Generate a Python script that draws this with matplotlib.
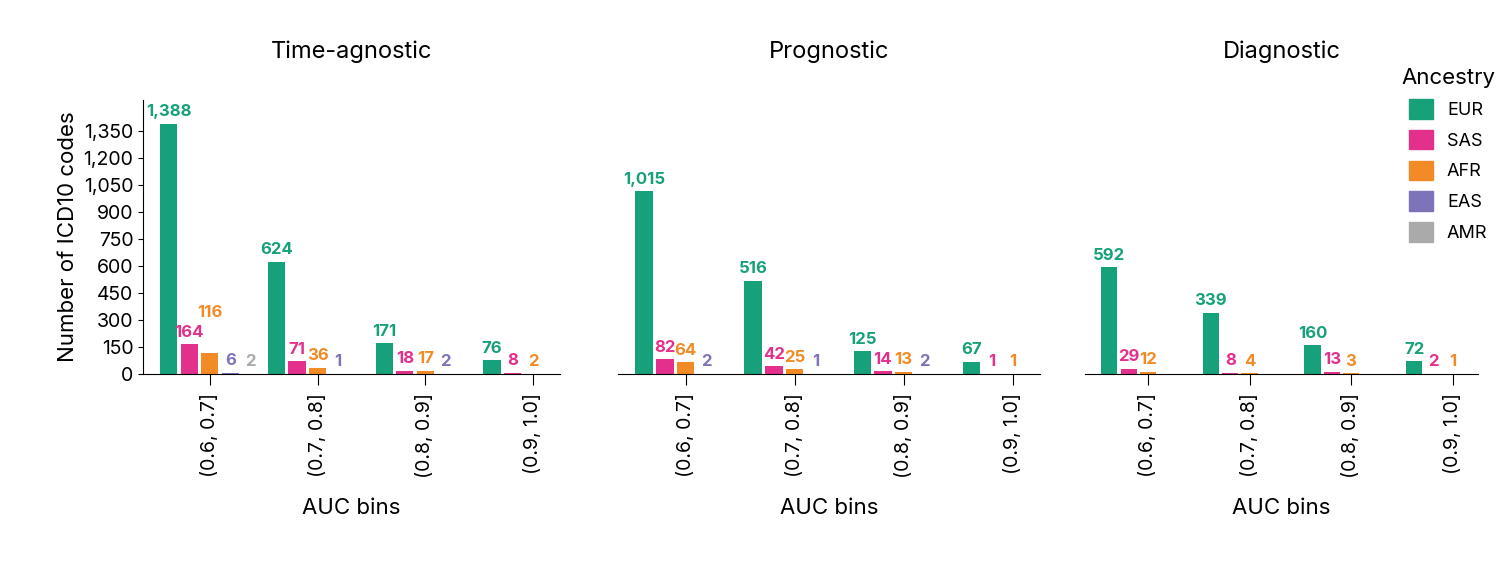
import matplotlib
matplotlib.use("Agg")
import matplotlib.pyplot as plt
from matplotlib.patches import Patch

bins = ["(0.6, 0.7]", "(0.7, 0.8]", "(0.8, 0.9]", "(0.9, 1.0]"]
ancestries = ["EUR", "SAS", "AFR", "EAS", "AMR"]
colors = ["#17a17b", "#e3308c", "#f28b25", "#7d73b8", "#aaaaaa"]
panels = ["Time-agnostic", "Prognostic", "Diagnostic"]

time_agnostic = [[1388, 164, 116, 6, 2], [624, 71, 36, 1, None], [171, 18, 17, 2, None], [76, 8, 2, None, None]]
prognostic = [[1015, 82, 64, 2, None], [516, 42, 25, 1, None], [125, 14, 13, 2, None], [67, 1, 1, None, None]]
diagnostic = [[592, 29, 12, None, None], [339, 8, 4, None, None], [160, 13, 3, None, None], [72, 2, 1, None, None]]
data = [time_agnostic, prognostic, diagnostic]

plt.rcParams["font.family"] = "Inter"
fig = plt.figure(figsize=(15.12, 5.78), dpi=100)
W, H = 1512, 578
boxes = [(143, 560), (618, 1040), (1085, 1478)]
ytop, ybot = 100, 374
slot = 0.19
for pi, (x0, x1) in enumerate(boxes):
    ax = fig.add_axes([x0 / W, 1 - ybot / H, (x1 - x0) / W, (ybot - ytop) / H])
    for gi, grp in enumerate(data[pi]):
        prev_y = None
        for si, v in enumerate(grp):
            if v is None:
                continue
            x = gi + (si - 2) * slot
            ax.bar(x, v, width=0.16, color=colors[si])
            ly = v + 25
            if si > 0 and prev_y is not None and len(str(v)) >= 3 and abs(ly - prev_y) < 90:
                ly = prev_y + 110
            if si > 0 and prev_y is not None and len(str(grp[si - 1])) >= 3 and len(str(v)) >= 3 and ly < prev_y + 90 and ly > prev_y - 90:
                ly = prev_y + 110
            ax.text(x, ly, f"{v:,}", color=colors[si], ha="center", va="bottom",
                    fontsize=12, fontweight="bold")
            prev_y = ly
    ax.set_ylim(0, 1520)
    ax.set_xlim(-0.62, 3.25)
    ax.set_xticks(range(4))
    ax.set_xticklabels(bins, rotation=90, fontsize=14)
    ax.tick_params(axis="x", length=8, pad=6)
    for s in ["top", "right"]:
        ax.spines[s].set_visible(False)
    if pi == 0:
        ax.set_yticks(range(0, 1351, 150))
        ax.set_yticklabels([f"{t:,}" for t in range(0, 1351, 150)], fontsize=14)
        ax.set_ylabel("Number of ICD10 codes", fontsize=16)
    else:
        ax.spines["left"].set_visible(False)
        ax.set_yticks([])
    ax.set_title(panels[pi], fontsize=17, pad=30)
    ax.set_xlabel("AUC bins", fontsize=16, labelpad=14)

handles = [Patch(color=c, label=a) for a, c in zip(ancestries, colors)]
fig.legend(handles=handles, title="Ancestry", loc="upper left", bbox_to_anchor=(1385 / W, 1 - 52 / H),
           frameon=False, fontsize=13, title_fontsize=16, handlelength=1.3, handleheight=1.3,
           labelspacing=0.6)
fig.savefig("out.png", dpi=100)
